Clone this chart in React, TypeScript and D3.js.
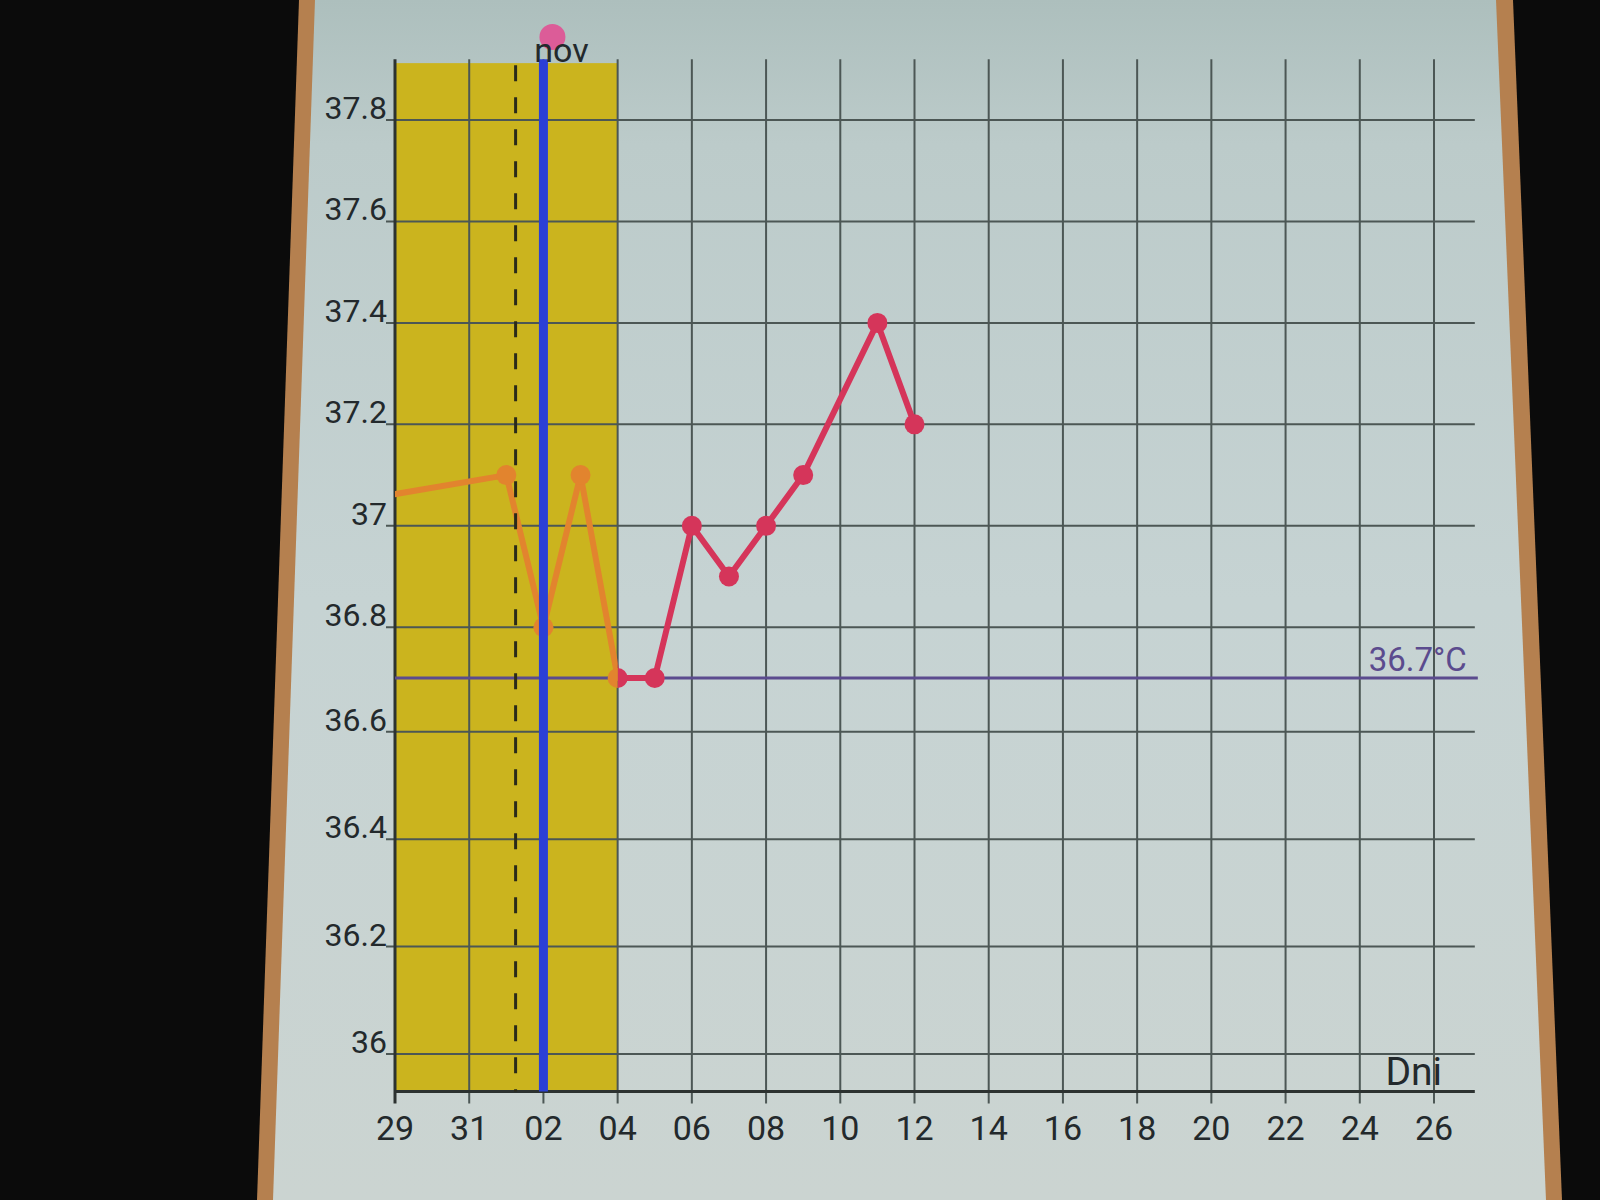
import React from "react";
import * as d3 from "d3";

// ---- data ----
// day index: 0 = Oct 29, 4 = Nov 2, 28 = Nov 26
const xTickDays = [0, 2, 4, 6, 8, 10, 12, 14, 16, 18, 20, 22, 24, 26, 28];
const xTickLabels = ["29", "31", "02", "04", "06", "08", "10", "12", "14", "16", "18", "20", "22", "24", "26"];
const yTickValues = [36.0, 36.2, 36.4, 36.6, 36.8, 37.0, 37.2, 37.4, 37.6, 37.8];
const yTickLabels = ["36", "36.2", "36.4", "36.6", "36.8", "37", "37.2", "37.4", "37.6", "37.8"];
const pointDays = [-5, 3, 4, 5, 6, 7, 8, 9, 10, 11, 13, 14];
const pointTemps = [37.0, 37.1, 36.8, 37.1, 36.7, 36.7, 37.0, 36.9, 37.0, 37.1, 37.4, 37.2];
const bandDays = [0, 6];
const monthStartDay = 4;
const monthLabel = "nov";
const markerDay = 3.25;
const coverLine = 36.7;
const coverLabel = "36.7°C";
const xAxisTitle = "Dni";
const xDomainEnd = 29.1;
const yDomain = [35.93, 37.92];

export default function App() {
  const x = d3.scaleLinear().domain([0, 28]).range([395, 1434]);
  const y = d3.scaleLinear().domain([37.8, 36.7, 36.0]).range([120, 678, 1054]);
  const x0 = x(0);
  const x1 = x(xDomainEnd);
  const yTop = y(yDomain[1]);
  const yBot = y(yDomain[0]);

  const pts = pointDays.map((d, i) => ({ d, t: pointTemps[i] }));
  const line = d3
    .line<{ d: number; t: number }>()
    .x((p) => x(p.d))
    .y((p) => y(p.t));
  const path = line(pts) || "";
  const visiblePts = pts.filter((p) => p.d >= 0);

  const font = "Roboto, 'Noto Sans', sans-serif";
  const textColor = "#23292c";
  const gridColor = "#4c5755";
  const red = "#d5355a";
  const orange = "#e2842e";

  return (
    <svg
      width={1600}
      height={1200}
      style={{ position: "absolute", left: 0, top: 0 }}
      fontFamily={font}
    >
      <defs>
        <linearGradient id="screenGrad" x1="0" y1="0" x2="0" y2="1">
          <stop offset="0" stopColor="#adbfbd" />
          <stop offset="0.12" stopColor="#bccbca" />
          <stop offset="0.5" stopColor="#c6d3d3" />
          <stop offset="1" stopColor="#cbd4d1" />
        </linearGradient>
        <clipPath id="plotClip">
          <rect x={x0} y={yTop - 20} width={x1 - x0} height={yBot - yTop + 20} />
        </clipPath>
        <clipPath id="bandClip">
          <rect x={x(bandDays[0])} y={0} width={x(bandDays[1]) - x(bandDays[0])} height={1200} />
        </clipPath>
        <clipPath id="outClip">
          <rect x={x(bandDays[1])} y={0} width={1600 - x(bandDays[1])} height={1200} />
        </clipPath>
      </defs>

      {/* photo frame */}
      <rect x={0} y={0} width={1600} height={1200} fill="#0b0b0b" />
      <polygon points="299,0 1513,0 1562,1200 257,1200" fill="#b5804f" />
      <polygon points="315,0 1496,0 1546,1200 273,1200" fill="url(#screenGrad)" />

      {/* fertile band */}
      <rect
        x={x(bandDays[0])}
        y={yTop + 4}
        width={x(bandDays[1]) - x(bandDays[0])}
        height={yBot - yTop - 4}
        fill="#cbb41e"
      />

      {/* horizontal grid */}
      {yTickValues.map((v) => (
        <line key={"h" + v} x1={x0 - 9} x2={x1} y1={y(v)} y2={y(v)} stroke={gridColor} strokeWidth={2} />
      ))}
      {/* vertical grid */}
      {xTickDays.map((d) => (
        <line
          key={"v" + d}
          x1={x(d)}
          x2={x(d)}
          y1={yTop}
          y2={yBot + 12}
          stroke={d === 0 ? "#2c3230" : gridColor}
          strokeWidth={d === 0 ? 3 : 2}
        />
      ))}
      {/* x axis */}
      <line x1={x0} x2={x1} y1={yBot} y2={yBot} stroke="#2c3230" strokeWidth={3} />

      {/* y labels */}
      {yTickValues.map((v, i) => (
        <text
          key={"yl" + v}
          x={x0 - 8}
          y={y(v) - 1}
          textAnchor="end"
          fontSize={32}
          fill={textColor}
        >
          {yTickLabels[i]}
        </text>
      ))}
      {/* x labels */}
      {xTickDays.map((d, i) => (
        <text key={"xl" + d} x={x(d)} y={yBot + 48} textAnchor="middle" fontSize={34} fill={textColor}>
          {xTickLabels[i]}
        </text>
      ))}
      <text x={1442} y={yBot - 7} textAnchor="end" fontSize={39} fill={textColor}>
        {xAxisTitle}
      </text>

      {/* cover line */}
      <line x1={x0} x2={x1 + 3} y1={y(coverLine)} y2={y(coverLine)} stroke="#5b4b8e" strokeWidth={3} />
      <text x={x1 - 8} y={y(coverLine) - 7} textAnchor="end" fontSize={33} fill="#5b4b8e">
        {coverLabel}
      </text>

      {/* temperature line: red outside band, orange inside */}
      <g clipPath="url(#plotClip)">
        <g clipPath="url(#outClip)">
          <path d={path} fill="none" stroke={red} strokeWidth={6} strokeLinejoin="round" />
          {visiblePts.map((p) => (
            <circle key={"r" + p.d} cx={x(p.d)} cy={y(p.t)} r={10} fill={red} />
          ))}
        </g>
        <g clipPath="url(#bandClip)">
          <path d={path} fill="none" stroke={orange} strokeWidth={6} strokeLinejoin="round" />
          {visiblePts.map((p) => (
            <circle key={"o" + p.d} cx={x(p.d)} cy={y(p.t)} r={10} fill={orange} />
          ))}
        </g>
      </g>

      {/* marker dashed line */}
      <line
        x1={x(markerDay)}
        x2={x(markerDay)}
        y1={yTop + 6}
        y2={yBot}
        stroke="#2a2a1a"
        strokeWidth={3}
        strokeDasharray="16,16"
      />

      {/* month start line */}
      <line x1={x(monthStartDay)} x2={x(monthStartDay)} y1={yTop} y2={yBot} stroke="#2b3fd6" strokeWidth={9} />
      <circle cx={x(monthStartDay) + 9} cy={37} r={13} fill="#dc5c98" />
      <text x={x(monthStartDay) + 18} y={62} textAnchor="middle" fontSize={34} fill={textColor}>
        {monthLabel}
      </text>
    </svg>
  );
}
